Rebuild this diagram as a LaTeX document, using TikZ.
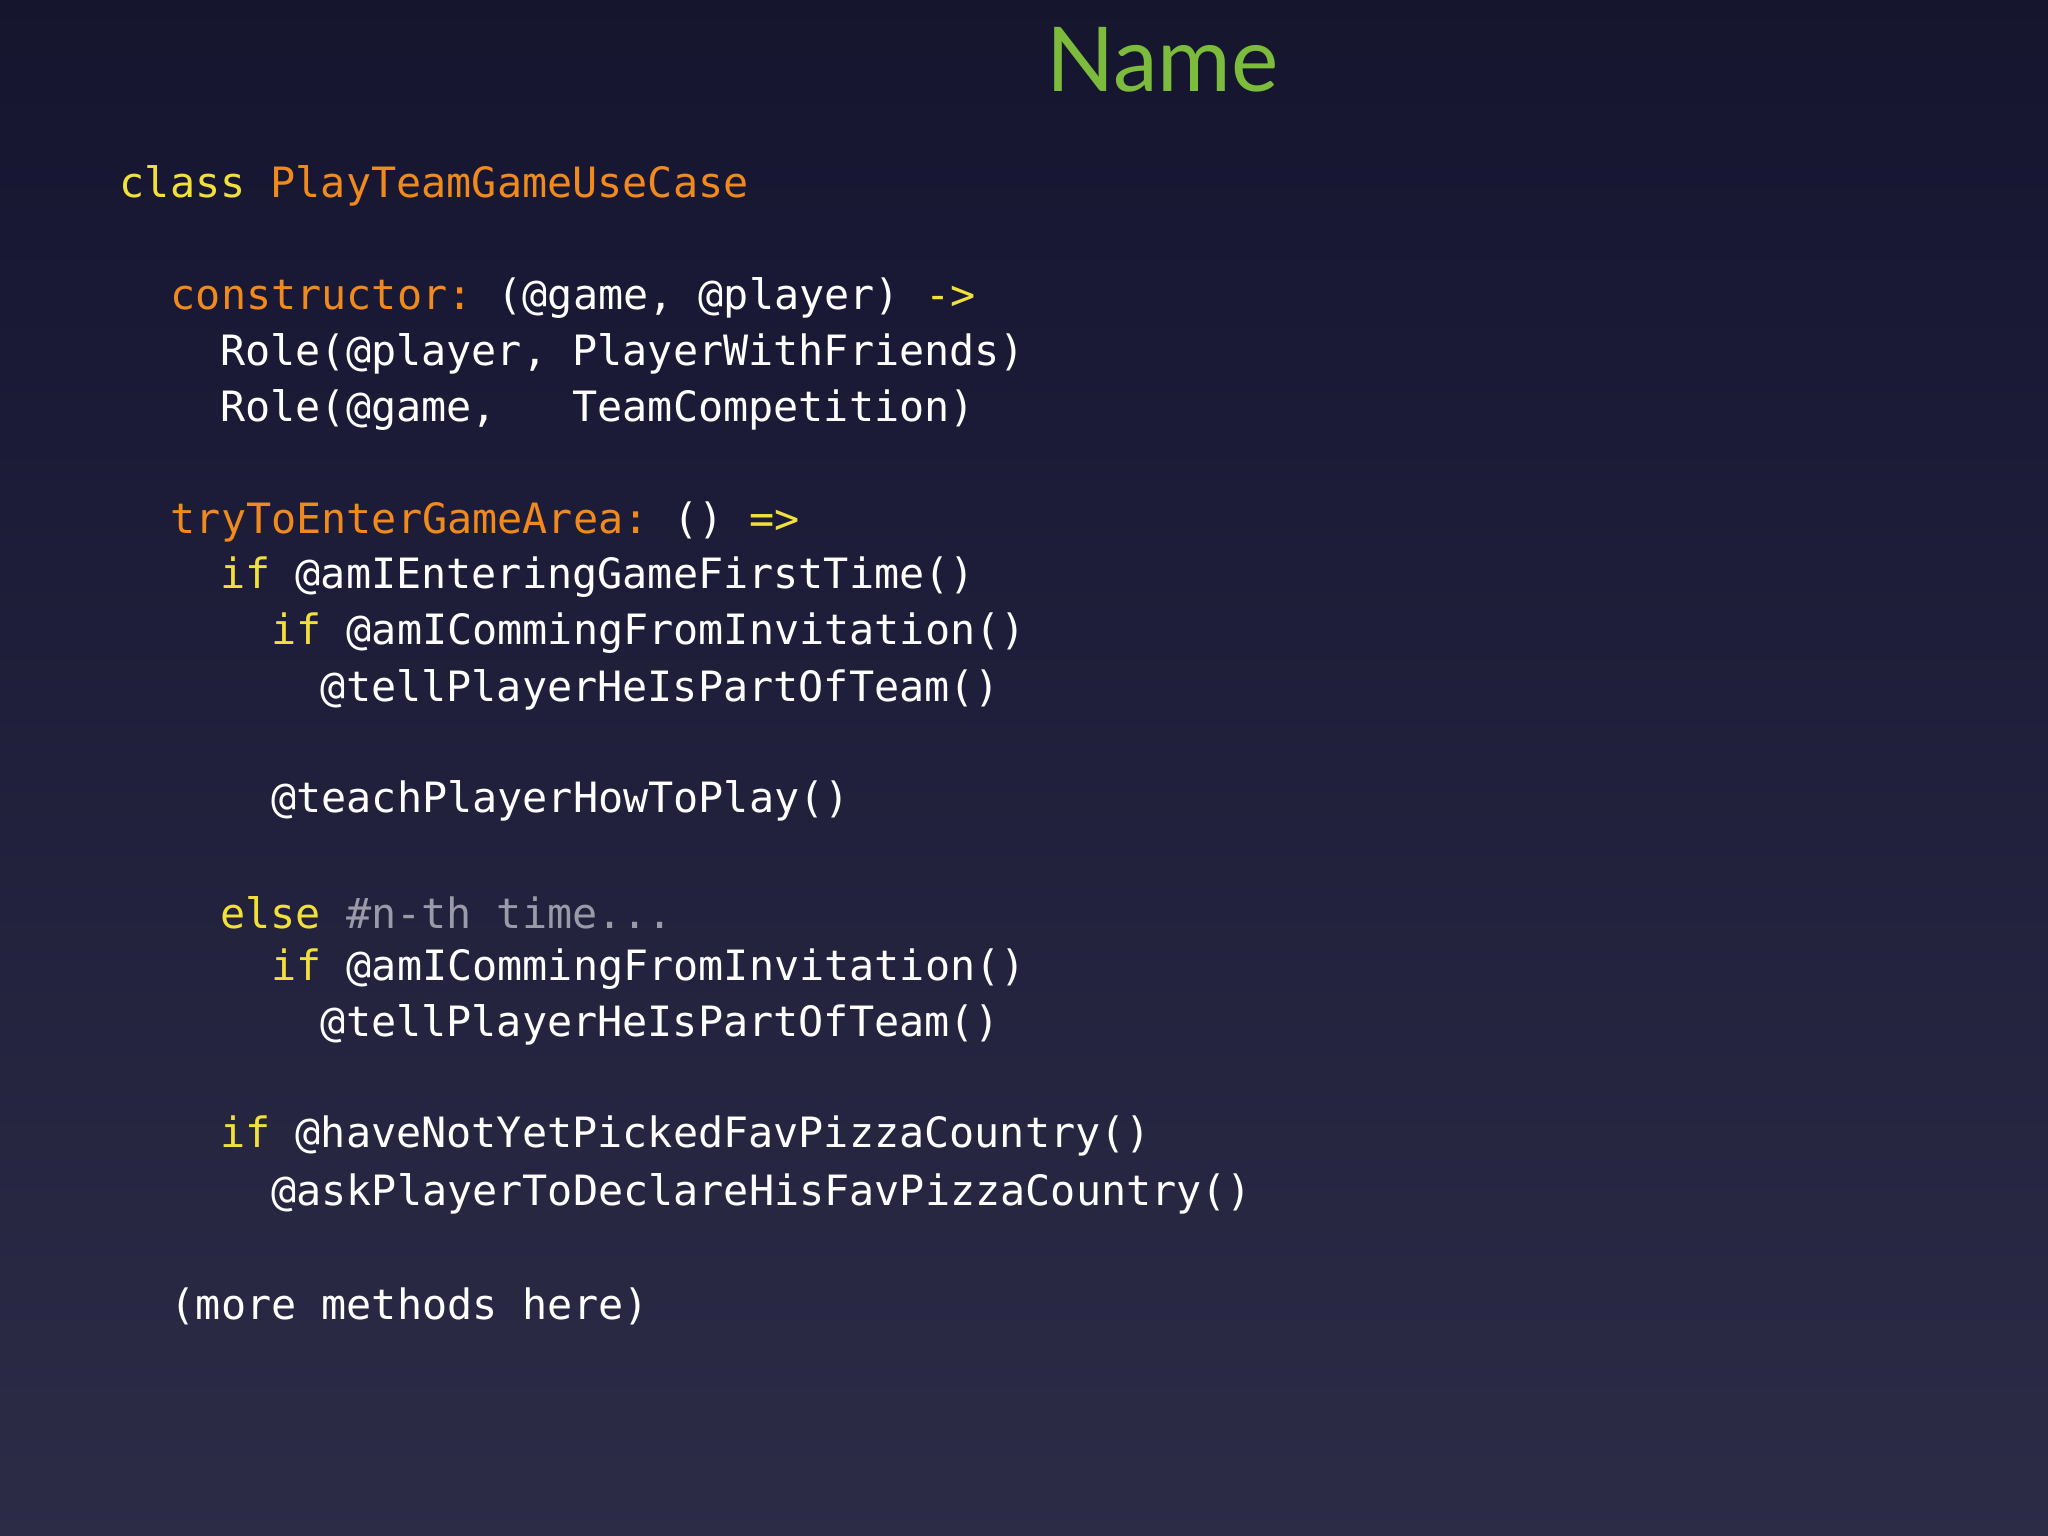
\documentclass[tikz,border=0pt]{standalone}
\usepackage{fontspec}
\setmainfont{Lato}
\setmonofont{DejaVu Sans Mono}
\definecolor{kw}{HTML}{F2E03A}
\definecolor{nm}{HTML}{F08A1C}
\definecolor{cm}{HTML}{9A9AA8}
\definecolor{ttl}{HTML}{7DBB3C}
\definecolor{bga}{RGB}{100,98,120}
\definecolor{bgb}{RGB}{72,70,96}
\definecolor{bgc}{RGB}{24,24,52}
\pgfdeclareverticalshading{bgshade}{15.68cm}{color(0cm)=(bga); color(3cm)=(bgb); color(6.5cm)=(bgc); color(8.8cm)=(black); color(11.76cm)=(black)}
\tikzset{code/.style={anchor=west,inner sep=0pt,text=white,font=\ttfamily\fontsize{9.1}{11}\selectfont}}
\newcommand{\K}[1]{\textcolor{kw}{#1}}
\newcommand{\N}[1]{\textcolor{nm}{#1}}
\begin{document}
\begin{tikzpicture}[x=1cm,y=1cm]
\fill[shading=bgshade,shading angle=0] (0,0) rectangle (15.68,11.76);
\useasboundingbox (0,0) rectangle (15.68,11.76);
\node[text=ttl,font=\fontsize{19.5}{22}\selectfont,inner sep=0pt] (title) at (8.9,11.30) {Name};
\node[code] (l1) at (0.91,10.34) {\K{class} \N{PlayTeamGameUseCase}};
\node[code] (l2) at (1.30,9.48) {\N{constructor:} (@game, @player) \K{->}};
\node[code] (l3) at (1.68,9.05) {Role(@player, PlayerWithFriends)};
\node[code] (l4) at (1.68,8.62) {Role(@game,\ \ \ TeamCompetition)};
\node[code] (l5) at (1.30,7.76) {\N{tryToEnterGameArea:} () \K{=>}};
\node[code] (l6) at (1.68,7.34) {\K{if} @amIEnteringGameFirstTime()};
\node[code] (l7) at (2.07,6.91) {\K{if} @amICommingFromInvitation()};
\node[code] (l8) at (2.45,6.48) {@tellPlayerHeIsPartOfTeam()};
\node[code] (l9) at (2.07,5.63) {@teachPlayerHowToPlay()};
\node[code] (l10) at (1.68,4.77) {\K{else} \textcolor{cm}{\#n-th time...}};
\node[code] (l11) at (2.07,4.34) {\K{if} @amICommingFromInvitation()};
\node[code] (l12) at (2.45,3.91) {@tellPlayerHeIsPartOfTeam()};
\node[code] (l13) at (1.68,3.06) {\K{if} @haveNotYetPickedFavPizzaCountry()};
\node[code] (l14) at (2.07,2.62) {@askPlayerToDeclareHisFavPizzaCountry()};
\node[code] (l15) at (1.30,1.76) {(more methods here)};
\end{tikzpicture}
\end{document}
